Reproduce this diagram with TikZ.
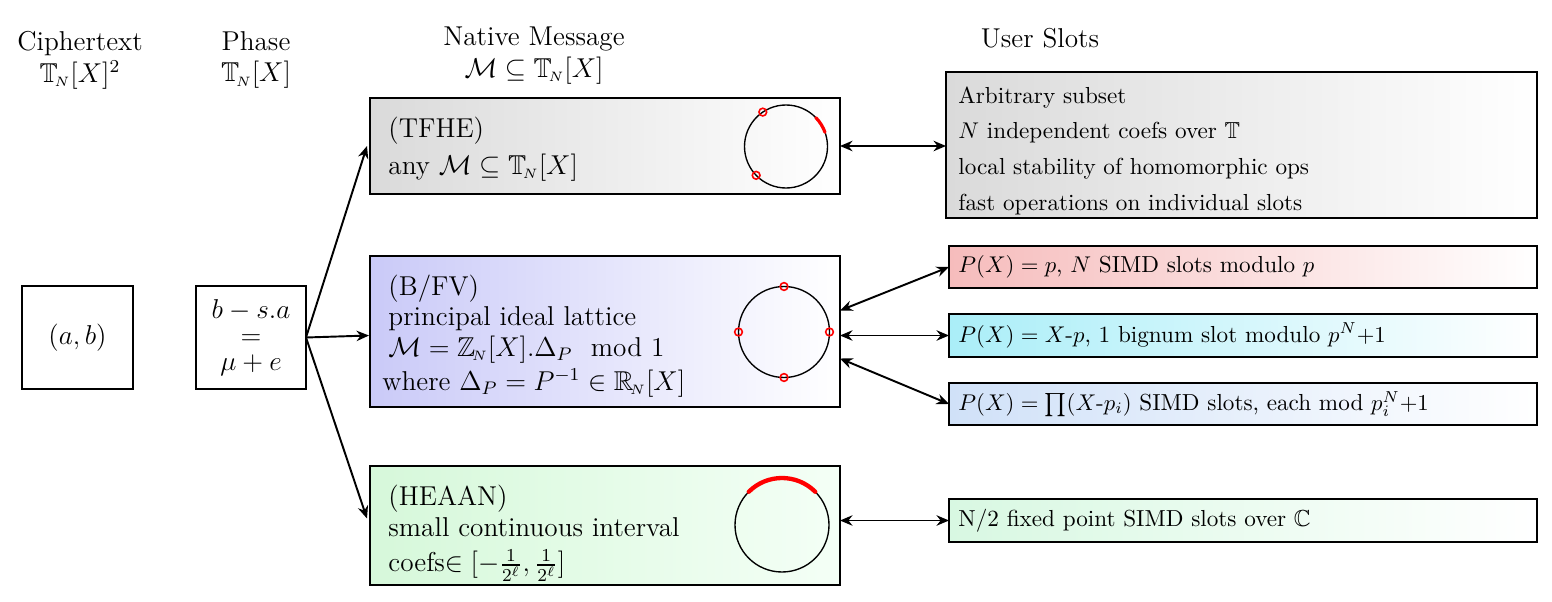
\documentclass[tikz,border=0pt]{standalone}
\usepackage{amsmath,amssymb}
\usetikzlibrary{arrows.meta,calc}
\newcommand{\Tnx}{\mathbb{T}_{\!\scriptscriptstyle N}}
\newcommand{\Znx}{\mathbb{Z}_{\!\scriptscriptstyle N}}
\newcommand{\Rnx}{\mathbb{R}_{\!\scriptscriptstyle N}}
\def\pxu{0.44}
\definecolor{cgray}{RGB}{218,218,218}
\definecolor{cblue}{RGB}{202,202,248}
\definecolor{cgreen}{RGB}{214,248,218}
\definecolor{cgreenr}{RGB}{244,255,246}
\definecolor{cred}{RGB}{246,188,188}
\definecolor{ccyan}{RGB}{170,238,248}
\definecolor{clblue}{RGB}{208,225,248}
\definecolor{cmint}{RGB}{216,248,226}
\begin{document}
\begin{tikzpicture}[x=\pxu pt,y=-\pxu pt,
  box/.style={draw, line width=1.1pt, inner sep=0pt, outer sep=0pt},
  hdr/.style={font=\large, align=center, inner sep=0pt},
  btxt/.style={font=\large, align=left, anchor=north west, inner sep=0pt},
  sfont/.style={font=\fontsize{10.2}{12.2}\selectfont},
  stxt/.style={sfont, anchor=west, inner sep=0pt},
  tip/.tip={Stealth[length=5.5pt,width=4.6pt,inset=1.8pt]},
  conn/.style={line width=0.85pt, -tip},
  dconn/.style={line width=0.85pt, tip-tip},
  ring/.style={draw, circle, line width=0.6pt, inner sep=0pt, outer sep=0pt},
  rdot/.style={draw=red, circle, line width=0.7pt, minimum size=3.4pt, inner sep=0pt},
  redarc/.style={draw=red, line cap=round}]
\useasboundingbox (0,0) rectangle (1552,602);

% headers
\node[hdr] (h1) at (80,60) {Ciphertext\\$\Tnx[X]^2$};
\node[hdr] (h2) at (256,60) {Phase\\$\Tnx[X]$};
\node[hdr] (h3) at (534,56) {Native Message\\$\mathcal{M}\subseteq\Tnx[X]$};
\node[hdr] (h4) at (1040,38) {User Slots};

% left boxes
\node[box, minimum width=111*\pxu pt, minimum height=103*\pxu pt, font=\large] (ct) at (77.5,337.5) {$(a,b)$};
\node[box, minimum width=110*\pxu pt, minimum height=103*\pxu pt, font=\large, align=center] (ph) at (251,337.5)
  {$b-s.a$\\[-2.5pt]$=$\\[-2.5pt]$\mu+e$};

% native message boxes
\node[box, minimum width=470*\pxu pt, minimum height=96*\pxu pt, left color=cgray, right color=white] (tfhe) at (605,146) {};
\node[box, minimum width=470*\pxu pt, minimum height=151*\pxu pt, left color=cblue, right color=white] (bfv) at (605,331.5) {};
\node[box, minimum width=470*\pxu pt, minimum height=119*\pxu pt, left color=cgreen, right color=cgreenr] (heaan) at (605,525.5) {};

\node[btxt] (tfhet) at (388,117) {(TFHE)\\[2pt] any $\mathcal{M}\subseteq\Tnx[X]$};
\node[btxt] (bfvt) at (388,275) {(B/FV)\\[-1pt] principal ideal lattice\\[-0.5pt] $\mathcal{M}=\Znx[X].\Delta_P\mod 1$\\[1.2pt] \hspace*{-2.7pt}where $\Delta_P=P^{-1}\in\Rnx[X]$};
\node[btxt] (heaant) at (388,485) {(HEAAN)\\[-0.5pt] small continuous interval\\[1.5pt] coefs$\in[-\frac{1}{2^\ell},\frac{1}{2^\ell}]$};

% circles
\node[ring, minimum size=83*\pxu pt] (c1) at (786,146.5) {};
\node[rdot] (d11) at (c1.124) {};
\node[rdot] (d12) at (c1.224) {};
\draw[redarc, line width=1.4pt] ($(c1.center)+(20:41.5*\pxu pt)$) arc[start angle=20, end angle=44, radius=41.5*\pxu pt];

\node[ring, minimum size=91*\pxu pt] (c2) at (784,332) {};
\node[rdot] (d21) at (c2.0) {};
\node[rdot] (d22) at (c2.90) {};
\node[rdot] (d23) at (c2.180) {};
\node[rdot] (d24) at (c2.270) {};

\node[ring, minimum size=94*\pxu pt] (c3) at (782,525) {};
\draw[redarc, line width=1.9pt] ($(c3.center)+(45:47*\pxu pt)$) arc[start angle=45, end angle=135, radius=47*\pxu pt];

% user slot boxes
\node[box, minimum width=591*\pxu pt, minimum height=146*\pxu pt, left color=cgray, right color=white] (us) at (1241.5,145) {};
\node[btxt, sfont] (ust) at (958,86) {Arbitrary subset\\[3.6pt] $N$ independent coefs over $\mathbb{T}$\\[3.6pt] local stability of homomorphic ops\\[3.6pt] fast operations on individual slots};

\node[box, minimum width=588*\pxu pt, minimum height=42*\pxu pt, left color=cred, right color=white] (r1) at (1243,267) {};
\node[stxt] (r1t) at (958,267) {$P(X)=p$, $N$ SIMD slots modulo $p$};
\node[box, minimum width=588*\pxu pt, minimum height=43*\pxu pt, left color=ccyan, right color=white] (r2) at (1243,335.5) {};
\node[stxt] (r2t) at (958,335.5) {$P(X)=X$-$p$, 1 bignum slot modulo $p^N{+}1$};
\node[box, minimum width=588*\pxu pt, minimum height=42*\pxu pt, left color=clblue, right color=white] (r3) at (1243,404) {};
\node[stxt] (r3t) at (958,404) {$P(X)=\prod(X$-$p_i)$ SIMD slots, each mod $p_i^N{+}1$};
\node[box, minimum width=588*\pxu pt, minimum height=43*\pxu pt, left color=cmint, right color=white] (r4) at (1243,520.5) {};
\node[stxt] (r4t) at (958,520.5) {N/2 fixed point SIMD slots over $\mathbb{C}$};

% connectors
\draw[conn] (ph.east) -- ($(tfhe.west)+(-3,0)$);
\draw[conn] (ph.east) -- ($(bfv.west)+(-1,4)$);
\draw[conn] (ph.east) -- ($(heaan.west)+(-3,-7)$);

\draw[dconn] (tfhe.east) -- (tfhe.east -| us.west);
\draw[dconn] ($(bfv.east)+(0,-21)$) -- (r1.west);
\draw[dconn] (bfv.east |- r2.west) -- (r2.west);
\draw[dconn] ($(bfv.east)+(0,27)$) -- (r3.west);
\draw[dconn] (heaan.east |- r4.west) -- (r4.west);
\end{tikzpicture}
\end{document}
